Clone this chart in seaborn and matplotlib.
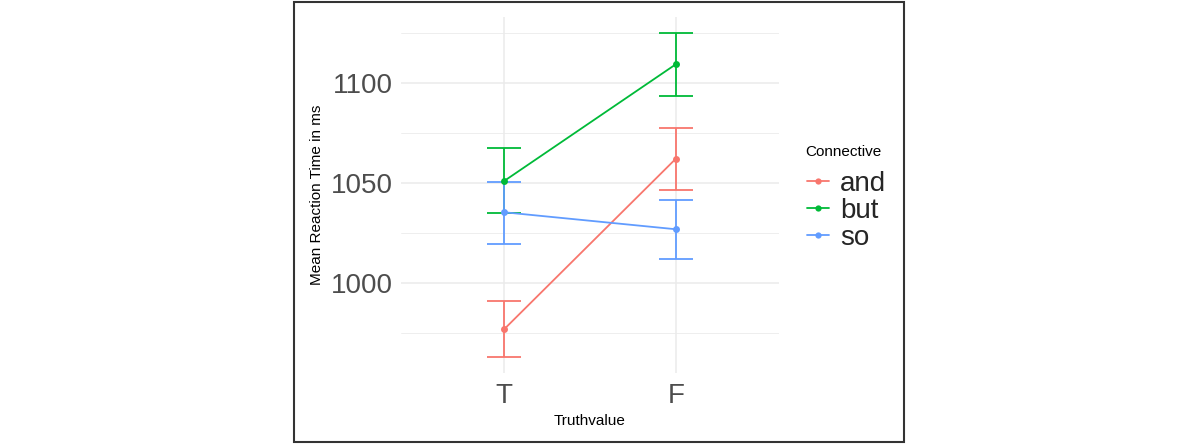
import numpy as np
import pandas as pd
import seaborn as sns
import matplotlib.pyplot as plt
from matplotlib.patches import Rectangle

# values
truth = ['T', 'F']
connectives = ['and', 'but', 'so']
mean_and = [976.7, 1062.0]
mean_but = [1050.8, 1109.2]
mean_so = [1035.2, 1026.7]
low_and = [962.7, 1046.5]
low_but = [1034.7, 1093.5]
low_so = [1019.3, 1012.0]
high_and = [991.0, 1077.3]
high_but = [1067.2, 1125.0]
high_so = [1050.3, 1041.5]

colors = ['#F8766D', '#00BA38', '#619CFF']

rows = []
for conn, m, lo, hi in zip(connectives,
                           [mean_and, mean_but, mean_so],
                           [low_and, low_but, low_so],
                           [high_and, high_but, high_so]):
    for i, tv in enumerate(truth):
        rows.append({'Connective': conn, 'Truthvalue': tv, 'pos': i,
                     'mean': m[i], 'low': lo[i], 'high': hi[i]})
df = pd.DataFrame(rows)

sns.set_theme(style='white')
plt.rcParams['font.family'] = ['Liberation Sans', 'DejaVu Sans']

fig = plt.figure(figsize=(12, 4.44), dpi=100)
ax = fig.add_axes([401 / 1200, 1 - 373 / 444, 378 / 1200, 356 / 444])

# grid like theme_minimal
for y in [975, 1025, 1075, 1125]:
    ax.axhline(y, color='#EBEBEB', lw=0.6, zorder=0)
for y in [1000, 1050, 1100]:
    ax.axhline(y, color='#EBEBEB', lw=1.1, zorder=0)
for x in range(len(truth)):
    ax.axvline(x, color='#EBEBEB', lw=1.1, zorder=0)

# error bars first, then lines and points on top
for conn, col in zip(connectives, colors):
    d = df[df['Connective'] == conn]
    ax.vlines(d['pos'], d['low'], d['high'], color=col, lw=1.3, zorder=2)
    ax.hlines(d['low'], d['pos'] - 0.1, d['pos'] + 0.1, color=col, lw=1.3, zorder=2)
    ax.hlines(d['high'], d['pos'] - 0.1, d['pos'] + 0.1, color=col, lw=1.3, zorder=2)

sns.lineplot(data=df, x='pos', y='mean', hue='Connective', palette=colors,
             marker='o', markersize=5, markeredgewidth=0, lw=1.3, ax=ax,
             zorder=3)

ax.set_xlim(-0.6, 1.6)
ax.set_ylim(954.85, 1132.8)
ax.set_xticks(range(len(truth)))
ax.set_xticklabels(truth)
ax.set_yticks([1000, 1050, 1100])
ax.tick_params(axis='both', length=0, labelsize=20, labelcolor='#4D4D4D')
ax.tick_params(axis='y', pad=5.5)
ax.tick_params(axis='x', pad=7)
for s in ax.spines.values():
    s.set_visible(False)
ax.grid(False)
ax.set_xlabel('')
ax.set_ylabel('')
fig.text(589.5 / 1200, 1 - 421 / 444, 'Truthvalue', ha='center', va='center',
         fontsize=11, color='black')
fig.text(317 / 1200, 1 - 195 / 444, 'Mean Reaction Time in ms', ha='center',
         va='center', rotation=90, fontsize=11, color='black')

# legend: title as separate text so the gap matches ggplot
ax.get_legend().remove()
handles, labels = ax.get_legend_handles_labels()
fig.text(805 / 1200, 1 - 152 / 444, 'Connective', ha='left', va='center',
         fontsize=11, color='black')
leg = fig.legend(handles, labels, loc='upper left',
                 bbox_to_anchor=(807 / 1200, 1 - 171 / 444), frameon=False,
                 fontsize=20, handlelength=0.8, handletextpad=0.4,
                 labelspacing=0.04, borderaxespad=0, borderpad=0)
for h in leg.legend_handles:
    h.set_markersize(4.5)

fig.patches.append(Rectangle((294 / 1200, 2 / 444), 610 / 1200, 440 / 444,
                             transform=fig.transFigure, fill=False,
                             ec='#333333', lw=1.5))

fig.savefig('out.png', dpi=100, facecolor='white')
